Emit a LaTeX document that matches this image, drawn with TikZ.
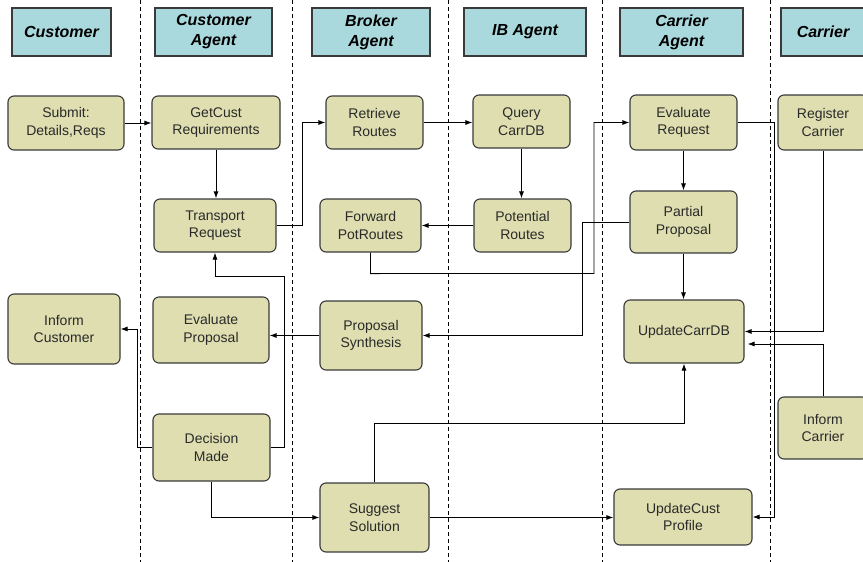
\documentclass[tikz,border=0pt]{standalone}
\usepackage{fontspec}
\setmainfont{Liberation Sans}
\usetikzlibrary{arrows.meta}
\definecolor{boxfill}{HTML}{DEDEB0}
\definecolor{headfill}{HTML}{A9D9DD}
\definecolor{edge}{HTML}{3A3A3A}
\definecolor{txt}{HTML}{2A2A2A}
\tikzset{
  box/.style={draw=edge, line width=1.1pt, fill=boxfill, rounded corners=6pt, align=center, inner sep=2pt,
    text=txt, font=\fontsize{14}{17.5}\selectfont},
  head/.style={draw=edge, line width=1.1pt, fill=headfill, align=center, inner sep=2pt,
    minimum height=48pt, font=\fontsize{16}{20}\selectfont\bfseries\itshape},
  arr/.style={draw=black, line width=0.9pt, -{Latex[length=7pt,width=5pt]}},
  lane/.style={draw=black, line width=0.9pt, dash pattern=on 4pt off 3pt}
}
\begin{document}
\begin{tikzpicture}[x=1pt,y=-1pt]
\useasboundingbox (0,0) rectangle (863,562);
\clip (0,0) rectangle (863,562);
\fill[white] (0,0) rectangle (863,562);
% swimlane separators
\foreach \xx/\nm in {140/l1,292/l2,448/l3,602/l4,770/l5}{
  \coordinate (\nm top) at (\xx,0);
  \coordinate (\nm bot) at (\xx,562);
  \draw[lane] (\nm top) -- (\nm bot);
}
% headers
\node[head, minimum width=99pt]  (hcust)   at (61.5,32) {Customer};
\node[head, minimum width=117pt] (hcagent) at (213.5,32) {Customer\\Agent};
\node[head, minimum width=118pt] (hbroker) at (371,32) {Broker\\Agent};
\node[head, minimum width=122pt] (hib)     at (525,32) {IB Agent};
\node[head, minimum width=123pt] (hcarag)  at (681.5,32) {Carrier\\Agent};
\node[head, minimum width=84pt]  (hcarr)   at (823,32) {Carrier};
% activity boxes
\node[box, minimum width=116pt, minimum height=54pt] (submit)    at (66,123) {Submit:\\Details,Reqs};
\node[box, minimum width=128pt, minimum height=53pt] (getcust)   at (216,122.5) {GetCust\\Requirements};
\node[box, minimum width=122pt, minimum height=53pt] (transport) at (215,225.5) {Transport\\Request};
\node[box, minimum width=97pt,  minimum height=53pt] (retrieve)  at (374.5,122.5) {Retrieve\\Routes};
\node[box, minimum width=101pt, minimum height=53pt] (forward)   at (370.5,225.5) {Forward\\PotRoutes};
\node[box, minimum width=97pt,  minimum height=53pt] (query)     at (521.5,121.5) {Query\\CarrDB};
\node[box, minimum width=97pt,  minimum height=53pt] (potential) at (522.5,225.5) {Potential\\Routes};
\node[box, minimum width=107pt, minimum height=55pt] (evalreq)   at (683.5,122.5) {Evaluate\\Request};
\node[box, minimum width=107pt, minimum height=62pt] (partial)   at (683.5,222) {Partial\\Proposal};
\node[box, minimum width=90pt,  minimum height=55pt] (register)  at (823,122.5) {Register\\Carrier};
\node[box, minimum width=120pt, minimum height=63pt] (updcarr)   at (684,331.5) {UpdateCarrDB};
\node[box, minimum width=90pt,  minimum height=62pt] (infcarr)   at (823,428) {Inform\\Carrier};
\node[box, minimum width=138pt, minimum height=56pt] (updcust)   at (683,517) {UpdateCust\\Profile};
\node[box, minimum width=112pt, minimum height=70pt] (infcust)   at (64,329) {Inform\\Customer};
\node[box, minimum width=116pt, minimum height=66pt] (evalprop)  at (211,330) {Evaluate\\Proposal};
\node[box, minimum width=102pt, minimum height=69pt] (propsyn)   at (371,335.5) {Proposal\\Synthesis};
\node[box, minimum width=117pt, minimum height=67pt] (decision)  at (211.5,447.5) {Decision\\Made};
\node[box, minimum width=109pt, minimum height=69pt] (suggest)   at (374.5,517.5) {Suggest\\Solution};
% connectors
\draw[arr] (submit.east) -- (getcust.west |- submit.east);
\draw[arr] (getcust.south) -- (getcust.south |- transport.north);
\draw[arr] (transport.east) -- ++(26,0) |- (retrieve.west);
\draw[arr] (retrieve.east) -- (query.west |- retrieve.east);
\draw[arr] (query.south) -- (query.south |- potential.north);
\draw[arr] (potential.west) -- (forward.east);
\draw[arr] (forward.south) -- ++(0,21) -- (594,273.5) |- (evalreq.west);
\draw[arr] (evalreq.south) -- (partial.north);
\draw[arr] (partial.west) -- ++(-47,0) |- (propsyn.east);
\draw[arr] (partial.south) -- (updcarr.north -| partial.south);
\draw[arr] (register.south) |- (updcarr.east);
\draw[arr, shorten >=3pt] (infcarr.north) |- ([yshift=-12.5pt]updcarr.east);
\draw[arr] (evalreq.east) -- ++(37,0) |- (updcust.east);
\draw[arr] (suggest.east) -- (updcust.west |- suggest.east);
\draw[arr] (suggest.north) -- ++(0,-59.5) -| (updcarr.south);
\draw[arr] (decision.south) |- (suggest.west);
\draw[arr] (decision.east) -- ++(14,0) -- ++(0,-171.5) -| (transport.south);
\draw[arr] (decision.west) -- ++(-15,0) |- (infcust.east);
\draw[arr] (propsyn.west) -- (evalprop.east |- propsyn.west);
\end{tikzpicture}
\end{document}
